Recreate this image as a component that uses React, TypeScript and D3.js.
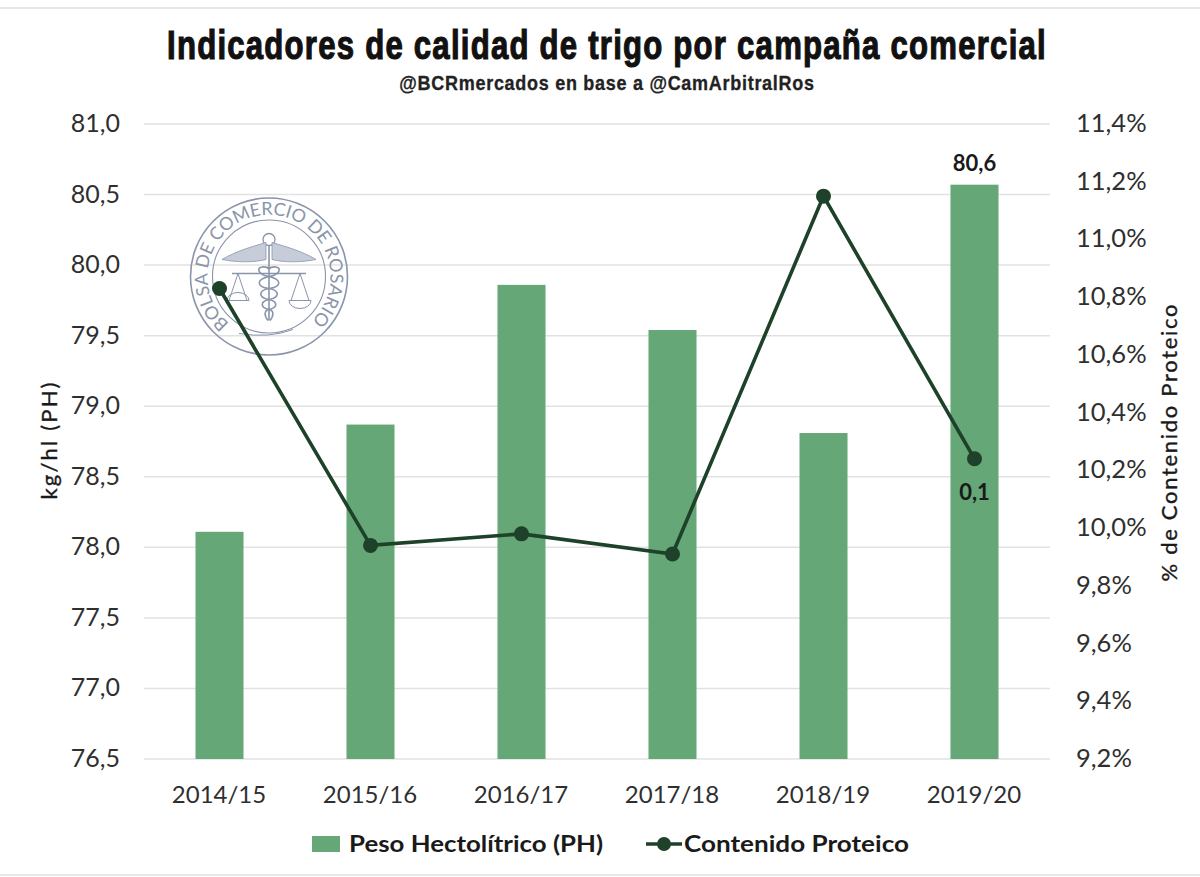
import React from "react";
import * as d3 from "d3";

const categories = ["2014/15", "2015/16", "2016/17", "2017/18", "2018/19", "2019/20"];
const pesoHectolitrico = [78.11, 78.87, 79.86, 79.54, 78.81, 80.57];
const contenidoProteico = [10.83, 9.94, 9.98, 9.91, 11.15, 10.24];
const leftTicks = [76.5, 77, 77.5, 78, 78.5, 79, 79.5, 80, 80.5, 81];
const rightTicks = [9.2, 9.4, 9.6, 9.8, 10, 10.2, 10.4, 10.6, 10.8, 11, 11.2, 11.4];

const W = 1200, H = 877;
const plot = { l: 144, r: 1050, t: 124, b: 759 };
const BAR = "#65a777", LINE = "#1e4129", TXT = "#1a1a1a", AXT = "#2f2f2f", GRID = "#e2e2e2";
const BODY = "Lato, 'Open Sans', sans-serif";
const HEAD = "'Liberation Sans', sans-serif";
const comma = (v: number, d = 1) => v.toFixed(d).replace(".", ",");

const x = d3.scaleBand<string>().domain(categories).range([plot.l, plot.r]).paddingInner(0.682).paddingOuter(0.341);
const yL = d3.scaleLinear().domain([76.5, 81]).range([plot.b, plot.t]);
const yR = d3.scaleLinear().domain([9.2, 11.4]).range([plot.b, plot.t]);
const cx = (c: string) => (x(c) as number) + x.bandwidth() / 2;
const linePath = d3.line<number>().x((_, i) => cx(categories[i])).y((v) => yR(v))(contenidoProteico) as string;

const LOGO = "#8a94aa";
function Logo() {
  const wing = (s: number) => `M${s * 3} -34 C${s * 16} -30 ${s * 32} -26 ${s * 47} -17 C${s * 32} -14 ${s * 14} -14 ${s * 3} -17 Z`;
  const pan = (s: number) => `M${s * 31} -3 L${s * 22} 24 M${s * 31} -3 L${s * 40} 24 M${s * 20} 24 A11 8 0 0 0 ${s * 42} 24 Z`;
  const snake = "M-2 -8 C14 -14 14 -2 0 0 C-13 3 -13 10 0 12 C11 14 11 21 0 23 C-9 25 -9 31 0 33 C5 34 5 39 1 44";
  const snake2 = "M2 -8 C-14 -14 -14 -2 0 0 C13 3 13 10 0 12 C-11 14 -11 21 0 23 C9 25 9 31 0 33 C-5 34 -5 39 -1 44";
  return (
    <g transform="translate(269,276.5)" fill="none" stroke={LOGO}>
      <circle r={78.5} strokeWidth={1.6} />
      <circle r={56.5} strokeWidth={1.1} />
      <defs>
        <path id="logoArc" d="M-39.5 47 A61.5 61.5 0 1 1 39.5 47" />
      </defs>
      <text fill={LOGO} stroke="none" fontFamily="Lato, sans-serif" fontSize={18}>
        <textPath href="#logoArc" textLength={296} lengthAdjust="spacing">BOLSA DE COMERCIO DE ROSARIO</textPath>
      </text>
      <circle cy={-37} r={6} strokeWidth={1.3} />
      <line y1={-31} y2={44} strokeWidth={1.6} />
      <path d={wing(1)} fill="#c6ccd8" strokeWidth={0.8} />
      <path d={wing(-1)} fill="#c6ccd8" strokeWidth={0.8} />
      <line x1={-37} x2={37} y1={-3} y2={-3} strokeWidth={1.6} />
      <path d={pan(1)} strokeWidth={1} />
      <path d={pan(-1)} strokeWidth={1} />
      <path d={snake} strokeWidth={1.6} />
      <path d={snake2} strokeWidth={1.6} />
      <path d="M-30 57 Q0 62 24 53" strokeWidth={1} />
    </g>
  );
}

export default function App() {
  const lx = 312;
  return (
    <svg width={W} height={H} viewBox={`0 0 ${W} ${H}`} style={{ position: "absolute", left: 0, top: 0, background: "#fff" }}>
      <rect x={-2} y={8} width={W + 4} height={867} fill="#fff" stroke="#e0e0e0" strokeWidth={1.5} />

      <text transform="translate(607,59) scale(0.76,1)" textAnchor="middle" fontFamily={HEAD} fontWeight={700} fontSize={41} letterSpacing={1.6} fill="#111" stroke="#111" strokeWidth={1.2}>
        Indicadores de calidad de trigo por campaña comercial
      </text>
      <text transform="translate(607,90) scale(0.9,1)" textAnchor="middle" fontFamily={HEAD} fontWeight={700} fontSize={20} letterSpacing={0.8} fill="#222" stroke="#222" strokeWidth={0.3}>
        @BCRmercados en base a @CamArbitralRos
      </text>

      {leftTicks.map((t) => (
        <line key={t} x1={plot.l} x2={plot.r} y1={yL(t)} y2={yL(t)} stroke={GRID} strokeWidth={1.5} />
      ))}

      <Logo />

      {categories.map((c, i) => (
        <rect key={c} x={x(c)} y={yL(pesoHectolitrico[i])} width={x.bandwidth()} height={plot.b - yL(pesoHectolitrico[i])} fill={BAR} />
      ))}

      <path d={linePath} fill="none" stroke={LINE} strokeWidth={3.6} />
      {categories.map((c, i) => (
        <circle key={c} cx={cx(c)} cy={yR(contenidoProteico[i])} r={7.5} fill={LINE} />
      ))}

      {leftTicks.map((t) => (
        <text key={t} x={120} y={yL(t) + 8} textAnchor="end" fontFamily={BODY} fontSize={25} fill={AXT}>{comma(t)}</text>
      ))}
      {rightTicks.map((t) => (
        <text key={t} x={1076} y={yR(t) + 8} fontFamily={BODY} fontSize={25.5} fill={AXT}>{comma(t)}%</text>
      ))}
      {categories.map((c) => (
        <text key={c} x={cx(c) - 0.5} y={803} textAnchor="middle" fontFamily={BODY} fontSize={24} fill={AXT}>{c}</text>
      ))}

      <text transform="translate(57,441) rotate(-90)" textAnchor="middle" fontFamily={BODY} fontSize={22} fill={TXT} stroke={TXT} strokeWidth={0.35} textLength={117}>kg/hl (PH)</text>
      <text transform="translate(1177,443) rotate(-90)" textAnchor="middle" fontFamily={BODY} fontSize={22} fill={TXT} stroke={TXT} strokeWidth={0.35} textLength={277}>% de Contenido Proteico</text>

      <text x={cx(categories[5])} y={171} textAnchor="middle" fontFamily={BODY} fontWeight={700} fontSize={22} fill={TXT}>{comma(pesoHectolitrico[5])}</text>
      <text x={cx(categories[5])} y={500} textAnchor="middle" fontFamily={BODY} fontWeight={700} fontSize={22} fill={TXT}>0,1</text>

      <rect x={lx} y={836} width={28} height={16} fill={BAR} />
      <text x={lx + 37} y={852} fontFamily={BODY} fontWeight={700} fontSize={23} fill={TXT} textLength={254} lengthAdjust="spacingAndGlyphs">Peso Hectolítrico (PH)</text>
      <line x1={646} x2={682} y1={844} y2={844} stroke={LINE} strokeWidth={3.6} />
      <circle cx={664} cy={844} r={7} fill={LINE} />
      <text x={684} y={852} fontFamily={BODY} fontWeight={700} fontSize={23} fill={TXT} textLength={225} lengthAdjust="spacingAndGlyphs">Contenido Proteico</text>
    </svg>
  );
}
